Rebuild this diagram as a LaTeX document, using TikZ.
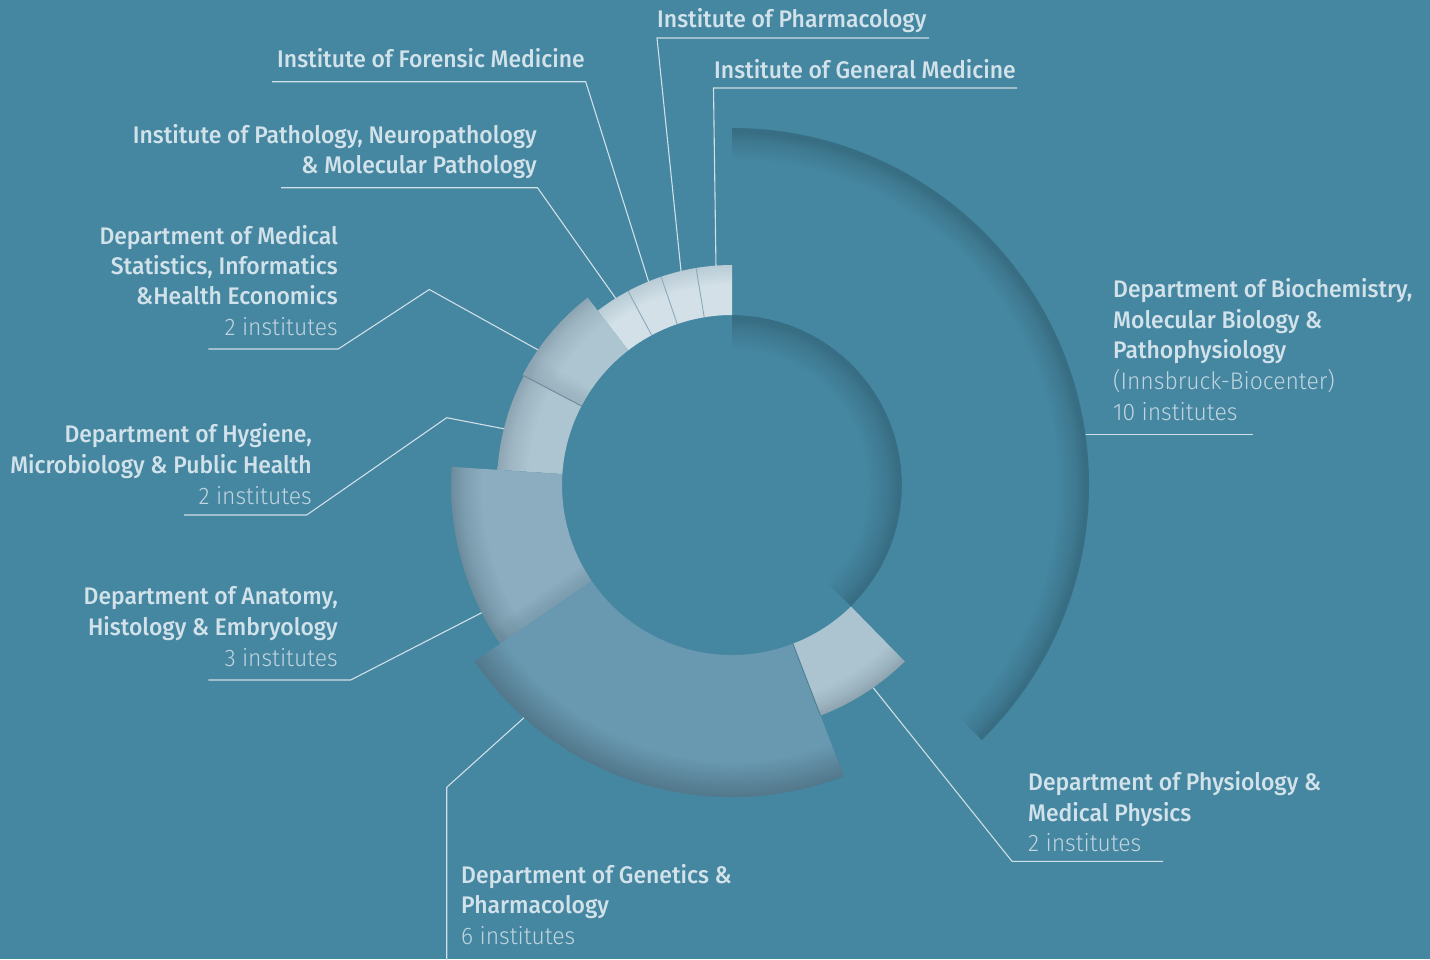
\documentclass[tikz,border=0pt]{standalone}
\usepackage{fontspec}
\setmainfont{Fira Sans}
\newfontfamily\fmed{Fira Sans Medium}[FakeStretch=0.955]
\newfontfamily\flight{Fira Sans Light}[FakeStretch=0.955]
\definecolor{bg}{HTML}{4586A0}
\definecolor{bioD}{HTML}{386E83}
\colorlet{bioM}{bg!45!bioD}
\definecolor{inD}{HTML}{386E84}
\colorlet{inM}{bg!45!inD}
\definecolor{smC}{HTML}{D3E0E7}
\definecolor{smD}{HTML}{B9CCD6}
\definecolor{msC}{HTML}{ADC5D1}
\definecolor{msD}{HTML}{8DA5B2}
\colorlet{msM}{msC!50!msD}
\definecolor{anC}{HTML}{8BADBF}
\definecolor{anD}{HTML}{6C8C9D}
\colorlet{anM}{anC!50!anD}
\definecolor{geC}{HTML}{6899B0}
\definecolor{geD}{HTML}{52778B}
\colorlet{geM}{geC!45!geD}
\definecolor{phC}{HTML}{ACC4D0}
\definecolor{phD}{HTML}{8CA2AF}
\colorlet{phM}{phC!45!phD}
\definecolor{txt}{HTML}{D2E2EA}
\definecolor{txtl}{HTML}{C0D5E0}
\definecolor{lnc}{HTML}{CFE0E8}
\definecolor{divl}{HTML}{8AAABA}
\definecolor{divd}{HTML}{4F7E94}
\pgfdeclareradialshading{shBio}{\pgfpoint{0bp}{0bp}}{color(0bp)=(bg); color(22.8bp)=(bg); color(24.1bp)=(bioM); color(24.7bp)=(bioD); color(50bp)=(bioD)}
\pgfdeclareradialshading{shIn}{\pgfpoint{0bp}{0bp}}{color(0bp)=(bg); color(19.9bp)=(bg); color(22.8bp)=(inM); color(24.4bp)=(inD); color(50bp)=(inD)}
\pgfdeclareradialshading{shSm}{\pgfpoint{0bp}{0bp}}{color(0bp)=(smC); color(22.75bp)=(smC); color(25bp)=(smD); color(50bp)=(smD)}
\pgfdeclareradialshading{shMs}{\pgfpoint{0bp}{0bp}}{color(0bp)=(msC); color(21.7bp)=(msC); color(23.85bp)=(msM); color(25bp)=(msD); color(50bp)=(msD)}
\pgfdeclareradialshading{shAn}{\pgfpoint{0bp}{0bp}}{color(0bp)=(anC); color(22.25bp)=(anC); color(24bp)=(anM); color(25bp)=(anD); color(50bp)=(anD)}
\pgfdeclareradialshading{shGe}{\pgfpoint{0bp}{0bp}}{color(0bp)=(geC); color(22.1bp)=(geC); color(23.7bp)=(geM); color(25bp)=(geD); color(50bp)=(geD)}
\pgfdeclareradialshading{shPh}{\pgfpoint{0bp}{0bp}}{color(0bp)=(phC); color(22.45bp)=(phC); color(24.1bp)=(phM); color(25bp)=(phD); color(50bp)=(phD)}
\newcommand\segpath[4]{(#1:#3) arc[start angle=#1, end angle=#2, radius=#3] -- (#2:#4) arc[start angle=#2, end angle=#1, radius=#4] -- cycle}
\tikzset{
  nm/.style={font=\fmed\fontsize{24}{30}\selectfont, text=txt, inner sep=0pt},
  ct/.style={font=\flight\fontsize{24}{30}\selectfont, text=txtl, inner sep=0pt},
  ld/.style={draw=lnc, line width=1.1pt},
  sideshadow/.style={#1, opacity=0.05},
}
\begin{document}
\begin{tikzpicture}[x=1pt,y=-1pt]
\useasboundingbox (0,0) rectangle (1430,959);
\fill[bg] (0,0) rectangle (1430,959);

% ---------- labels ----------
\node[nm, anchor=base west] (ph1) at (657,27) {Institute of Pharmacology};
\node[nm, anchor=base west] (gm1) at (714,78) {Institute of General Medicine};
\node[nm, anchor=base west] (fo1) at (277,67) {Institute of Forensic Medicine};
\node[nm, anchor=base east] (pa1) at (537,143) {Institute of Pathology, Neuropathology};
\node[nm, anchor=base east] (pa2) at (537,173) {\& Molecular Pathology};
\node[nm, anchor=base east] (ms1) at (338,244) {Department of Medical};
\node[nm, anchor=base east] (ms2) at (338,274.5) {Statistics, Informatics};
\node[nm, anchor=base east] (ms3) at (338,304.5) {\&Health Economics};
\node[ct, anchor=base east] (ms4) at (338,335) {2 institutes};
\node[nm, anchor=base east] (hy1) at (312,442) {Department of Hygiene,};
\node[nm, anchor=base east] (hy2) at (312,473) {Microbiology \& Public Health};
\node[ct, anchor=base east] (hy3) at (312,504) {2 institutes};
\node[nm, anchor=base east] (an1) at (338,604) {Department of Anatomy,};
\node[nm, anchor=base east] (an2) at (338,635.5) {Histology \& Embryology};
\node[ct, anchor=base east] (an3) at (338,666) {3 institutes};
\node[nm, anchor=base west] (ge1) at (461,883) {Department of Genetics \&};
\node[nm, anchor=base west] (ge2) at (461,913) {Pharmacology};
\node[ct, anchor=base west] (ge3) at (461,944) {6 institutes};
\node[nm, anchor=base west] (py1) at (1028,790) {Department of Physiology \&};
\node[nm, anchor=base west] (py2) at (1028,821) {Medical Physics};
\node[ct, anchor=base west] (py3) at (1028,851) {2 institutes};
\node[nm, anchor=base west] (bi1) at (1113,297) {Department of Biochemistry,};
\node[nm, anchor=base west] (bi2) at (1113,328) {Molecular Biology \&};
\node[nm, anchor=base west] (bi3) at (1113,358) {Pathophysiology};
\node[ct, anchor=base west] (bi4) at (1113,389) {(Innsbruck-Biocenter)};
\node[ct, anchor=base west] (bi5) at (1113,420) {10 institutes};

% ---------- leader lines ----------
\coordinate (phE) at (681,271); \coordinate (phA) at (657,38); \coordinate (phB) at (929,38);
\coordinate (gmE) at (716,268); \coordinate (gmA) at (713.5,88); \coordinate (gmB) at (1017,88);
\coordinate (foE) at (649,283); \coordinate (foA) at (585.7,81.7); \coordinate (foB) at (272,81.7);
\coordinate (paE) at (619,303); \coordinate (paA) at (537.5,187.7); \coordinate (paB) at (281,187.7);
\coordinate (msE) at (540,351); \coordinate (msK) at (429.3,289.5); \coordinate (msA) at (338.3,349); \coordinate (msB) at (208.3,349);
\coordinate (hyE) at (505,429); \coordinate (hyK) at (446.7,417.7); \coordinate (hyA) at (306.7,515); \coordinate (hyB) at (184,515);
\coordinate (anE) at (485,611); \coordinate (anA) at (350.7,680); \coordinate (anB) at (208.3,680);
\coordinate (geE) at (527,715); \coordinate (geK) at (446.7,787.3); \coordinate (geB) at (446.7,960);
\coordinate (pyE) at (871,685); \coordinate (pyA) at (1012,861.3); \coordinate (pyB) at (1163,861.3);
\coordinate (biE) at (1083,434.5); \coordinate (biB) at (1253.3,434.5);
\draw[ld] (phE) -- (phA) -- (phB);
\draw[ld] (gmE) -- (gmA) -- (gmB);
\draw[ld] (foE) -- (foA) -- (foB);
\draw[ld] (paE) -- (paA) -- (paB);
\draw[ld] (msE) -- (msK) -- (msA) -- (msB);
\draw[ld] (hyE) -- (hyK) -- (hyA) -- (hyB);
\draw[ld] (anE) -- (anA) -- (anB);
\draw[ld] (geE) -- (geK) -- (geB);
\draw[ld] (pyE) -- (pyA) -- (pyB);
\draw[ld] (biE) -- (biB);

% ---------- ring ----------
\begin{scope}[shift={(732,485)}, y=1pt]
  % inner shadow along biochemistry
  \begin{scope}
    \clip (0,0) -- (314.4:171) arc[start angle=314.4, end angle=450, radius=171] -- cycle;
    \shade[shading=shIn] (0,0) circle (170);
  \end{scope}
  % biochemistry
  \begin{scope}
    \clip \segpath{314.4}{450}{170}{357};
    \shade[shading=shBio] (0,0) circle (357);
  \end{scope}
  % small institutes
  \begin{scope}
    \clip \segpath{90}{127.6}{170}{220};
    \shade[shading=shSm] (0,0) circle (220);
  \end{scope}
  % medical statistics + hygiene
  \begin{scope}
    \clip \segpath{127.6}{152.3}{170}{236.5};
    \shade[shading=shMs] (0,0) circle (236.5);
    \foreach \w in {4,8,...,40} \draw[sideshadow=msD, line width=\w pt] (152.3:160) -- (152.3:250);
  \end{scope}
  \begin{scope}
    \clip \segpath{152.3}{176.3}{170}{235};
    \shade[shading=shMs] (0,0) circle (235);
  \end{scope}
  % anatomy
  \begin{scope}
    \clip \segpath{176.3}{214.4}{170}{281};
    \shade[shading=shAn] (0,0) circle (281);
    \foreach \w in {4,8,...,36} \draw[sideshadow=anD, line width=\w pt] (214.4:160) -- (214.4:300);
  \end{scope}
  % genetics
  \begin{scope}
    \clip \segpath{214.4}{291}{170}{312};
    \shade[shading=shGe] (0,0) circle (312);
  \end{scope}
  % physiology
  \begin{scope}
    \clip \segpath{291}{314.4}{170}{247};
    \shade[shading=shPh] (0,0) circle (247);
  \end{scope}
  % dividers
  \foreach \a in {99.4,108.8,118.2} \draw[divl, line width=0.9pt] (\a:170) -- (\a:220);
  \draw[divl!80!black, line width=0.9pt] (152.3:170) -- (152.3:235);
  \draw[divd, line width=0.9pt] (291:170) -- (291:247);
\end{scope}
\end{tikzpicture}
\end{document}
